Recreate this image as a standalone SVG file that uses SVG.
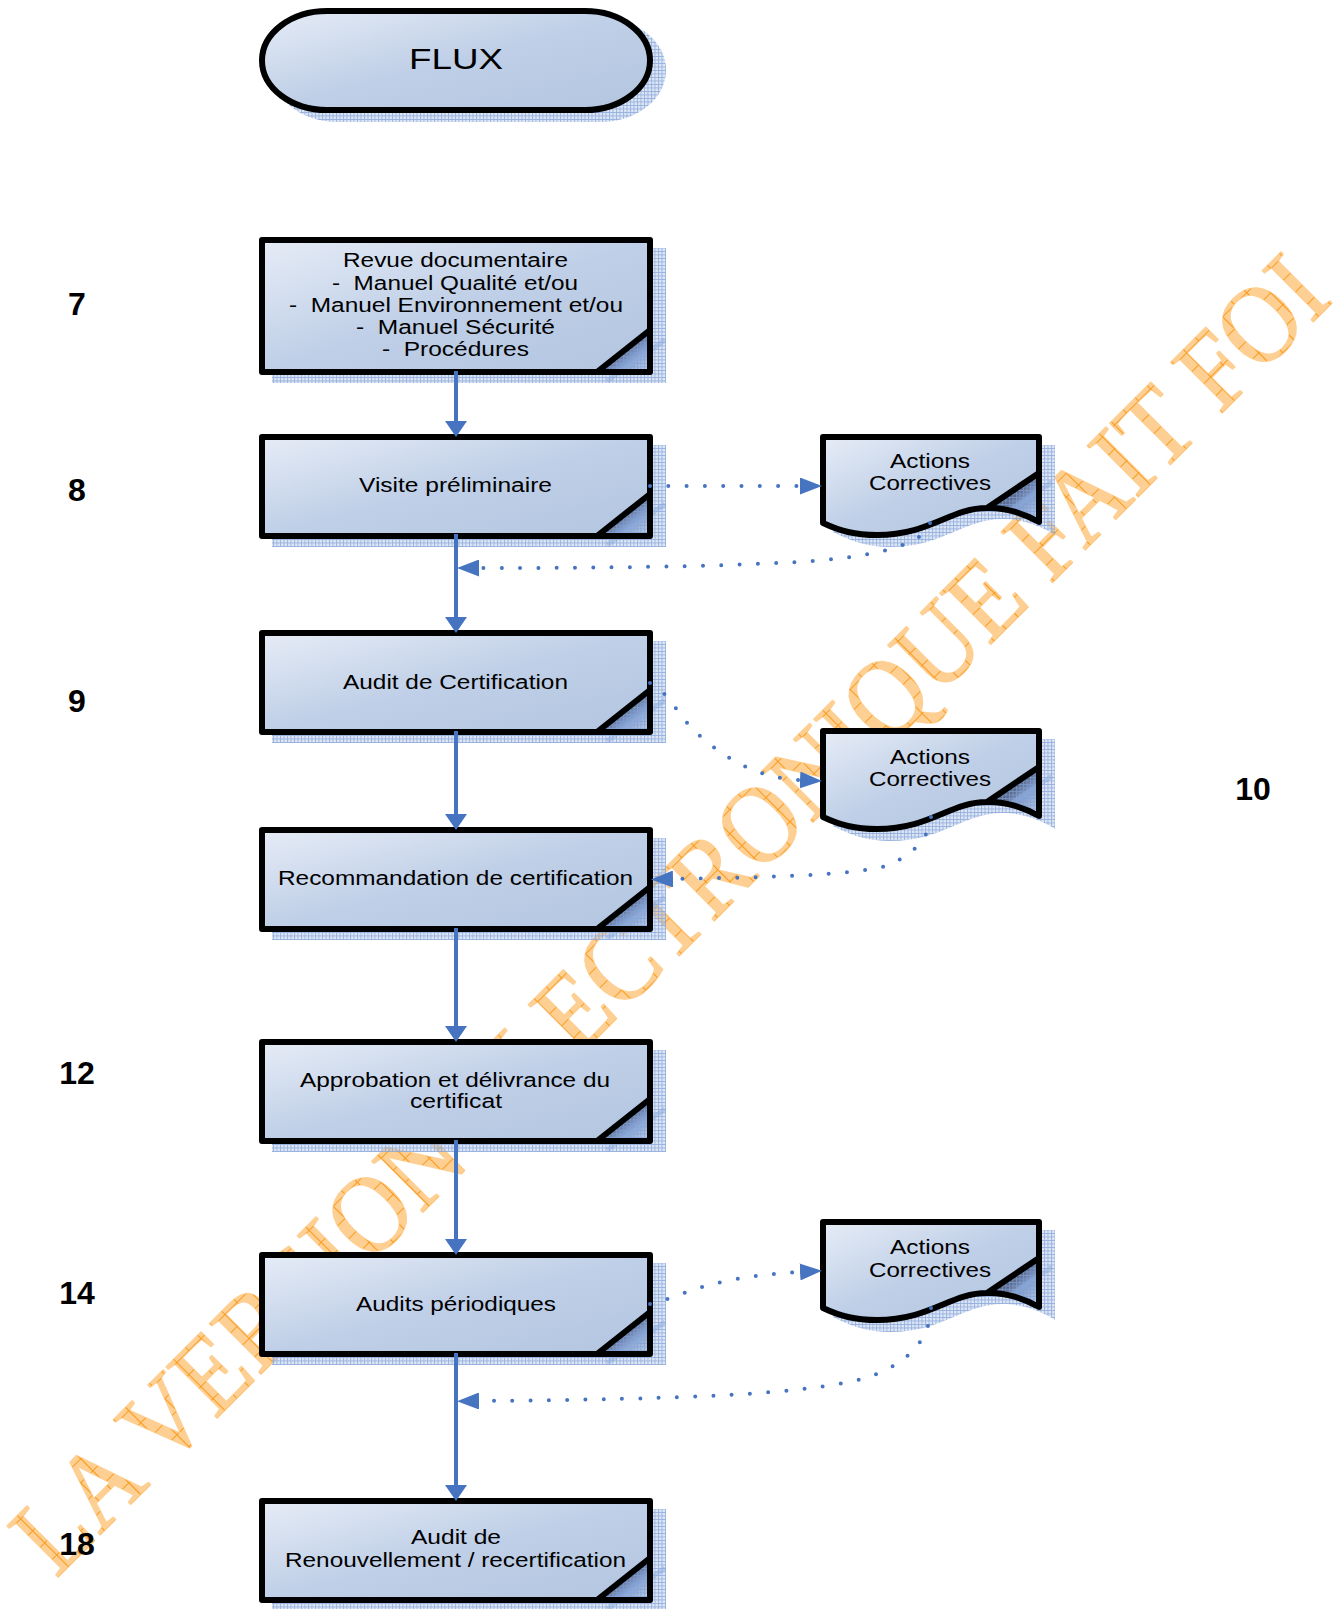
<svg xmlns="http://www.w3.org/2000/svg" width="1334" height="1609" viewBox="0 0 1334 1609">
<style>
.t{font-family:"Liberation Sans",Arial,sans-serif;font-size:19.5px;fill:#000}
.n{font-family:"Liberation Sans",Arial,sans-serif;font-size:32px;font-weight:bold;fill:#000;text-anchor:middle}
.wm{font-family:"Liberation Serif","Times New Roman",serif;font-size:110px;fill:url(#wmFill);stroke:#fdcf92;stroke-width:1.6;stroke-linejoin:round;paint-order:stroke}
.body{fill:url(#bodyGrad);stroke:#000;stroke-width:6;stroke-linejoin:round}
.edge{fill:none;stroke:#000;stroke-width:6;stroke-linejoin:round}
.mesh{fill:url(#mesh)}
.streak{fill:none;stroke:#8dabdc;stroke-width:5;opacity:.5}
.solid{fill:none;stroke:#4674c0;stroke-width:4;marker-end:url(#arrowS)}
.dot{fill:none;stroke:#4674c0;stroke-width:4;stroke-linecap:round;stroke-dasharray:0 18.3;marker-end:url(#arrowD)}
</style>
<defs>
<linearGradient id="bodyGrad" x1="0" y1="0" x2="1" y2="1">
<stop offset="0" stop-color="#e6ecf6"/><stop offset=".5" stop-color="#bfcfe7"/><stop offset="1" stop-color="#b3c5e0"/>
</linearGradient>
<linearGradient id="foldGrad" x1=".5" y1=".5" x2="1" y2="1">
<stop offset="0" stop-color="#101a38"/><stop offset=".3" stop-color="#5c7ab2"/><stop offset="1" stop-color="#dbe4f2"/>
</linearGradient>
<pattern id="mesh" width="3.5" height="3.5" patternUnits="userSpaceOnUse">
<rect width="3.5" height="3.5" fill="#b4c9ea" fill-opacity=".45"/>
<path d="M0 .5H3.5M.5 0V3.5" stroke="#7f9fd6" stroke-width=".9" stroke-opacity=".75" fill="none"/>
</pattern>
<pattern id="wmFill" width="17" height="17" patternUnits="userSpaceOnUse">
<rect width="17" height="17" fill="#fdcf92"/>
<path d="M0 .5H17M.5 0V17" stroke="#fa9a1a" stroke-width="1.1" fill="none"/>
</pattern>
<marker id="arrowS" markerUnits="userSpaceOnUse" markerWidth="16" markerHeight="22" viewBox="0 0 16 22" refX="0" refY="11" orient="auto"><path d="M0 0L16 11L0 22Z" fill="#4674c0"/></marker>
<marker id="arrowD" markerUnits="userSpaceOnUse" markerWidth="22" markerHeight="17" viewBox="0 0 22 17" refX="0" refY="8.5" orient="auto"><path d="M0 0L22 8.5L0 17Z" fill="#4674c0"/></marker>
<g id="noteStd">
<rect class="mesh" x="13" y="11" width="394" height="102"/>
<path d="M338 102L391 60V102Z" fill="url(#foldGrad)"/>
<path class="mesh" d="M338 102L391 60V102Z"/>
<path class="streak" d="M348 111L406 70"/>
<path class="body" d="M3 3H391V60L338 102H3Z"/>
<path class="edge" d="M391 60V102H338"/>
</g>
<g id="noteTall">
<rect class="mesh" x="13" y="11" width="394" height="135"/>
<path d="M338 135L391 93V135Z" fill="url(#foldGrad)"/>
<path class="mesh" d="M338 135L391 93V135Z"/>
<path class="streak" d="M348 144L406 103"/>
<path class="body" d="M3 3H391V93L338 135H3Z"/>
<path class="edge" d="M391 93V135H338"/>
</g>
<g id="docShape">
<path class="mesh" d="M16 11H235V101C218 90 198 85 183 85C143 85 123 113 70 113C50 113 32 108 13 98Z"/>
<path d="M167 74L219 39V88C205 80 185 73 167 74Z" fill="url(#foldGrad)"/>
<path class="mesh" d="M167 74L219 39V88C205 80 185 73 167 74Z"/>
<path class="streak" d="M190 76L232 48"/>
<path class="body" d="M3 3H219V39L167 74C130 74 110 101 57 101C35 101 20 97 3 89Z"/>
<path class="edge" d="M219 39V88C205 80 185 73 167 74"/>
</g>
</defs>

<g id="watermark">
<text class="wm" transform="translate(56 1579) rotate(-45)" x="0" y="0" textLength="1808" lengthAdjust="spacingAndGlyphs">LA VERSION ELECTRONIQUE FAIT FOI</text>
</g>

<g id="node-flux">
<rect class="mesh" x="272" y="18" width="394" height="104" rx="65" ry="52"/>
<rect x="262" y="11" width="388" height="99" rx="65" ry="49.5" class="body"/>
<text class="t" style="font-size:30px" x="409" y="69" textLength="94" lengthAdjust="spacingAndGlyphs">FLUX</text>
</g>

<g id="node-revue">
<use href="#noteTall" x="259" y="237"/>
<text class="t" x="343" y="267" textLength="225" lengthAdjust="spacingAndGlyphs">Revue documentaire</text>
<text class="t" x="332" y="289.5" textLength="246" lengthAdjust="spacingAndGlyphs" xml:space="preserve">-  Manuel Qualité et/ou</text>
<text class="t" x="289" y="311.5" textLength="334" lengthAdjust="spacingAndGlyphs" xml:space="preserve">-  Manuel Environnement et/ou</text>
<text class="t" x="356" y="334" textLength="199" lengthAdjust="spacingAndGlyphs" xml:space="preserve">-  Manuel Sécurité</text>
<text class="t" x="382" y="356" textLength="147" lengthAdjust="spacingAndGlyphs" xml:space="preserve">-  Procédures</text>
</g>

<g id="node-visite">
<use href="#noteStd" x="259" y="434"/>
<text class="t" x="359" y="492" textLength="193" lengthAdjust="spacingAndGlyphs">Visite préliminaire</text>
</g>

<g id="node-audit-cert">
<use href="#noteStd" x="259" y="630"/>
<text class="t" x="343" y="688.5" textLength="225" lengthAdjust="spacingAndGlyphs">Audit de Certification</text>
</g>

<g id="node-recommandation">
<use href="#noteStd" x="259" y="827"/>
<text class="t" x="278" y="885" textLength="355" lengthAdjust="spacingAndGlyphs">Recommandation de certification</text>
</g>

<g id="node-approbation">
<use href="#noteStd" x="259" y="1039"/>
<text class="t" x="300" y="1087" textLength="310" lengthAdjust="spacingAndGlyphs">Approbation et délivrance du</text>
<text class="t" x="410" y="1108" textLength="92" lengthAdjust="spacingAndGlyphs">certificat</text>
</g>

<g id="node-audits-periodiques">
<use href="#noteStd" x="259" y="1252"/>
<text class="t" x="356" y="1311" textLength="200" lengthAdjust="spacingAndGlyphs">Audits périodiques</text>
</g>

<g id="node-renouvellement">
<use href="#noteStd" x="259" y="1498"/>
<text class="t" x="411" y="1544" textLength="90" lengthAdjust="spacingAndGlyphs">Audit de</text>
<text class="t" x="285" y="1567" textLength="341" lengthAdjust="spacingAndGlyphs">Renouvellement / recertification</text>
</g>

<g id="node-actions-1">
<use href="#docShape" x="820" y="434"/>
<text class="t" x="890" y="468" textLength="80" lengthAdjust="spacingAndGlyphs">Actions</text>
<text class="t" x="869" y="490" textLength="122" lengthAdjust="spacingAndGlyphs">Correctives</text>
</g>

<g id="node-actions-2">
<use href="#docShape" x="820" y="728"/>
<text class="t" x="890" y="764" textLength="80" lengthAdjust="spacingAndGlyphs">Actions</text>
<text class="t" x="869" y="786" textLength="122" lengthAdjust="spacingAndGlyphs">Correctives</text>
</g>

<g id="node-actions-3">
<use href="#docShape" x="820" y="1219"/>
<text class="t" x="890" y="1254" textLength="80" lengthAdjust="spacingAndGlyphs">Actions</text>
<text class="t" x="869" y="1276.5" textLength="122" lengthAdjust="spacingAndGlyphs">Correctives</text>
</g>

<g id="connectors">
<path class="solid" d="M456 371V421"/>
<path class="solid" d="M456 534V617"/>
<path class="solid" d="M456 731V814"/>
<path class="solid" d="M456 928V1026"/>
<path class="solid" d="M456 1140V1239"/>
<path class="solid" d="M456 1353V1485"/>
<path class="dot" d="M650 486H800"/>
<path class="dot" d="M930 523C924 548 860 558 800 562C700 567 600 568 479 568"/>
<path class="dot" d="M650 683C668 690 680 720 700 736C730 762 760 778 800 780"/>
<path class="dot" d="M931 817C928 845 905 858 886 866C850 875 780 877 673 879"/>
<path class="dot" d="M650 1304C680 1298 700 1278 800 1272"/>
<path class="dot" d="M931 1308C930 1345 900 1368 862 1379C800 1394 700 1399 479 1401"/>
</g>

<g id="labels">
<text class="n" x="77" y="315">7</text>
<text class="n" x="77" y="501">8</text>
<text class="n" x="77" y="712">9</text>
<text class="n" x="1253" y="800">10</text>
<text class="n" x="77" y="1084">12</text>
<text class="n" x="77" y="1304">14</text>
<text class="n" x="77" y="1555">18</text>
</g>
</svg>
